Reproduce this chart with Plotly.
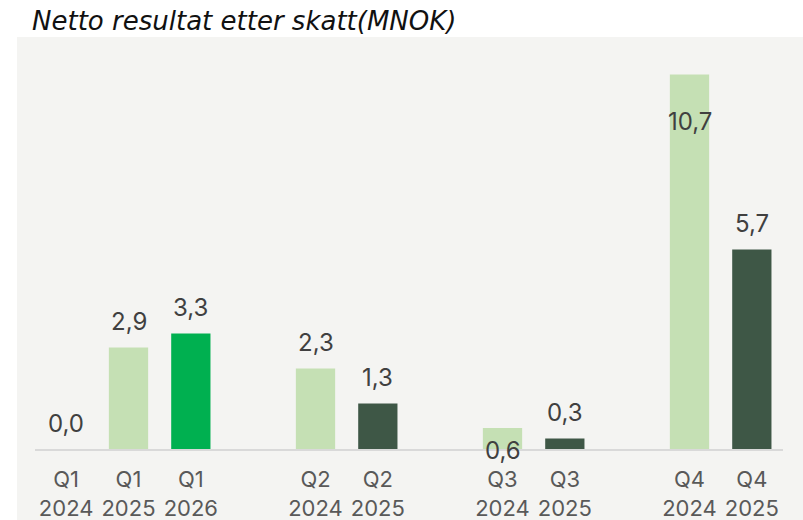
import plotly.graph_objects as go

quarters = ["Q1", "Q1", "Q1", "Q2", "Q2", "Q3", "Q3", "Q4", "Q4"]
years = ["2024", "2025", "2026", "2024", "2025", "2024", "2025", "2024", "2025"]
values = [0.0, 2.9, 3.3, 2.3, 1.3, 0.6, 0.3, 10.7, 5.7]
value_labels = ["0,0", "2,9", "3,3", "2,3", "1,3", "0,6", "0,3", "10,7", "5,7"]
title_text = "Netto resultat etter skatt(MNOK)"

# style
LIGHT, BRIGHT, DARK = "#c5e0b4", "#00b050", "#3e5746"
bar_colors = [LIGHT, LIGHT, BRIGHT, LIGHT, DARK, LIGHT, DARK, LIGHT, DARK]
label_shift = [26, 26, 26, 26, 26, -22, 26, -47, 26]

# slot positions: one empty slot between quarter groups
pos = []
slot = 0
prev = None
for q in quarters:
    if prev is not None and q != prev:
        slot += 1
    pos.append(slot)
    slot += 1
    prev = q

ticktext = [f"{q}<br>{y}" for q, y in zip(quarters, years)]

fig = go.Figure()
fig.add_trace(go.Bar(
    x=pos, y=values, width=0.63,
    marker=dict(color=bar_colors, line=dict(width=0)),
    hoverinfo="skip",
))

for x, v, t, s in zip(pos, values, value_labels, label_shift):
    fig.add_annotation(x=x, y=v, text=t, showarrow=False, yshift=s,
                       yanchor="middle", xanchor="center",
                       font=dict(family="Inter", size=24, color="#404040"))

fig.add_shape(type="rect", xref="paper", yref="paper",
              x0=-0.024, x1=1.1, y0=-0.2, y1=1.051,
              fillcolor="#f4f4f2", line=dict(width=0), layer="below")

fig.add_annotation(text=title_text, xref="paper", yref="paper",
                   x=-0.007, y=1.093, xanchor="left", yanchor="middle",
                   showarrow=False,
                   font=dict(family="DejaVu Sans", size=26, color="#111111", style="italic"))

fig.update_layout(
    width=803, height=520,
    margin=dict(l=35, r=20, t=57, b=71),
    paper_bgcolor="white", plot_bgcolor="rgba(0,0,0,0)",
    showlegend=False,
    xaxis=dict(range=[-0.5, max(pos) + 0.5], tickvals=pos, ticktext=ticktext,
               showgrid=False, zeroline=False, showline=True,
               linecolor="#d9d9d9", linewidth=2, ticks="",
               ticklabelstandoff=10, automargin=False,
               tickfont=dict(family="Inter", size=22, color="#595959")),
    yaxis=dict(range=[0, 11.2], visible=False, showgrid=False, zeroline=False),
)

fig.write_html("out.html", config={"displayModeBar": False})

with open("out.html", "r", encoding="utf-8") as f:
    html = f.read()
html = html.replace("<head>", "<head><style>html,body{margin:0;padding:0;}</style>", 1)
with open("out.html", "w", encoding="utf-8") as f:
    f.write(html)
